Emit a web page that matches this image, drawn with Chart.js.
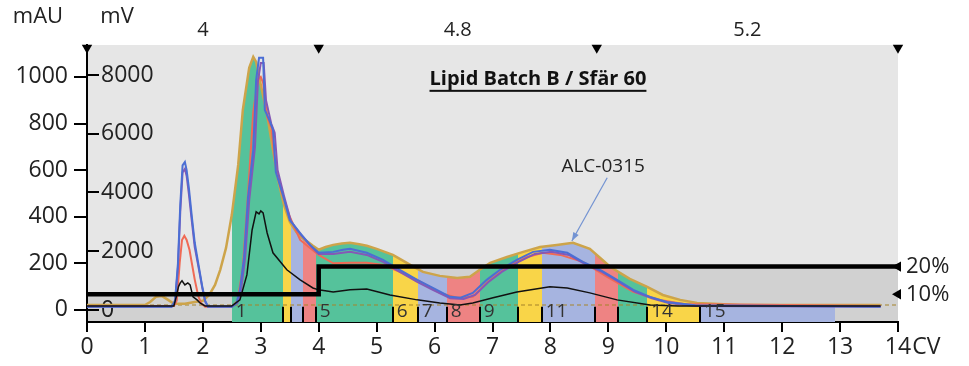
<!DOCTYPE html>
<html>
<head>
<meta charset="utf-8">
<script src="https://cdn.jsdelivr.net/npm/chart.js@4.4.0/dist/chart.umd.min.js"></script>
<style>
  body { margin: 0; background: #fff; }
  canvas { display: block; }
</style>
</head>
<body>
<canvas id="chart" width="969" height="366"></canvas>
<script>
// traces: x in CV, y in mAU
const goldX = [0, 1.0, 1.09, 1.19, 1.29, 1.40, 1.50, 1.69, 1.86, 2.0, 2.11, 2.21, 2.30, 2.40, 2.50, 2.61, 2.69, 2.80, 2.87, 2.92, 3.0, 3.11, 3.21, 3.30, 3.40, 3.50, 3.61, 3.71, 3.81, 3.90, 4.0, 4.12, 4.25, 4.40, 4.54, 4.70, 4.83, 5.0, 5.14, 5.28, 5.40, 5.61, 5.80, 6.09, 6.39, 6.61, 6.78, 6.96, 7.25, 7.53, 7.82, 8.11, 8.39, 8.68, 8.86, 9.03, 9.20, 9.37, 9.67, 9.94, 10.24, 10.53, 10.81, 11.27, 13.7]
const goldY = [21, 21, 34, 56, 60, 43, 26, 26, 34, 39, 64, 107, 172, 266, 408, 622, 858, 1039, 1086, 1064, 966, 837, 687, 558, 451, 378, 335, 309, 292, 275, 258, 270, 279, 285, 288, 282, 275, 262, 249, 236, 219, 189, 163, 146, 137, 142, 172, 202, 227, 249, 270, 279, 288, 262, 223, 185, 159, 133, 99, 64, 43, 30, 26, 21, 21]

const blueX = [0, 1.46, 1.52, 1.57, 1.61, 1.65, 1.69, 1.72, 1.76, 1.81, 1.86, 1.92, 1.99, 2.04, 2.09, 2.50, 2.58, 2.64, 2.71, 2.78, 2.87, 2.92, 2.97, 3.04, 3.07, 3.16, 3.21, 3.26, 3.38, 3.50, 3.68, 3.85, 4.0, 4.25, 4.42, 4.54, 4.83, 5.11, 5.40, 5.70, 5.97, 6.27, 6.45, 6.66, 6.90, 7.13, 7.42, 7.70, 7.99, 8.29, 8.56, 8.86, 9.15, 9.43, 9.72, 10.01, 10.5, 13.7]
const blueY = [13, 13, 40, 200, 450, 620, 635, 600, 520, 399, 288, 200, 100, 40, 13, 13, 30, 86, 223, 485, 687, 987, 1082, 1082, 858, 807, 773, 592, 494, 386, 330, 279, 245, 249, 258, 262, 245, 215, 172, 129, 94, 56, 52, 73, 129, 172, 215, 249, 258, 245, 206, 172, 129, 86, 56, 34, 20, 13]

const purpleX = [0, 1.46, 1.52, 1.57, 1.61, 1.65, 1.69, 1.72, 1.76, 1.81, 1.86, 1.92, 1.99, 2.04, 2.09, 2.50, 2.60, 2.66, 2.73, 2.80, 2.90, 2.95, 3.0, 3.05, 3.09, 3.18, 3.24, 3.29, 3.40, 3.52, 3.70, 3.88, 4.0, 4.25, 4.54, 4.83, 5.11, 5.40, 5.70, 5.97, 6.27, 6.50, 6.70, 6.93, 7.16, 7.45, 7.73, 8.02, 8.32, 8.59, 8.89, 9.18, 9.46, 9.75, 10.04, 10.5, 13.7]
const purpleY = [13, 13, 35, 180, 420, 590, 605, 575, 495, 380, 270, 190, 95, 35, 13, 13, 30, 86, 223, 470, 700, 980, 1060, 1060, 900, 800, 760, 600, 490, 380, 320, 270, 240, 240, 250, 236, 206, 163, 120, 86, 50, 47, 64, 120, 163, 206, 240, 250, 236, 198, 163, 120, 77, 50, 30, 17, 13]

const redX = [0, 1.50, 1.55, 1.60, 1.64, 1.68, 1.72, 1.77, 1.81, 1.86, 1.92, 1.97, 2.04, 2.50, 2.60, 2.69, 2.78, 2.87, 2.95, 3.0, 3.04, 3.11, 3.18, 3.25, 3.35, 3.50, 3.68, 3.85, 4.0, 4.25, 4.54, 4.83, 5.11, 5.40, 5.70, 6.09, 6.39, 6.66, 6.90, 7.25, 7.60, 7.87, 8.17, 8.56, 8.98, 9.43, 9.89, 10.3, 13.7]
const redY = [17, 17, 40, 200, 300, 318, 300, 257, 200, 130, 60, 28, 13, 13, 40, 180, 500, 850, 990, 1000, 974, 828, 785, 631, 515, 400, 300, 266, 236, 200, 202, 202, 193, 163, 129, 73, 52, 56, 116, 185, 227, 245, 236, 206, 142, 77, 43, 25, 17]

const blackX = [0, 1.50, 1.54, 1.58, 1.61, 1.64, 1.69, 1.74, 1.78, 1.83, 1.90, 1.95, 2.04, 2.50, 2.64, 2.76, 2.85, 2.92, 2.97, 3.0, 3.04, 3.11, 3.21, 3.45, 3.68, 3.90, 4.0, 4.25, 4.54, 4.83, 5.23, 5.70, 6.09, 6.44, 6.66, 7.01, 7.42, 7.99, 8.29, 8.68, 9.15, 9.72, 10.2, 13.7]
const blackY = [17, 17, 56, 100, 116, 125, 107, 116, 107, 56, 43, 30, 17, 17, 43, 150, 343, 421, 412, 425, 416, 330, 245, 172, 129, 94, 86, 77, 86, 90, 64, 43, 30, 21, 30, 52, 77, 99, 94, 73, 43, 21, 17, 17]

// gradient (% B) and step blocks
const gradX = [0, 4, 4, 14]
const gradY = [10, 10, 20, 20]
const stepBounds = [0, 4, 8.8, 14]
const stepLabels = ['4', '4.8', '5.2']
const dashLevel = 21

// collected fractions
const fracBounds = [2.50, 3.38, 3.52, 3.73, 3.95, 5.28, 5.71, 6.21, 6.78, 7.44, 7.85, 8.77, 9.17, 9.67, 10.58, 12.91]
const fracLabels = ['1', '', '', '', '5', '6', '7', '8', '9', '', '11', '', '', '14', '15']
const fracColors = ['#55c29b', '#f9d548', '#a6b4e0', '#ee8383']

// axis ticks
const cvTicks = [0, 1, 2, 3, 4, 5, 6, 7, 8, 9, 10, 11, 12, 13, 14]
const mauTicks = [0, 200, 400, 600, 800, 1000]
const mvTicks = [0, 2000, 4000, 6000, 8000]
const pctTicks = [10, 20]

const FONT = "'Open Sans', sans-serif"
Chart.defaults.font.family = FONT
Chart.defaults.color = '#222'

function pts(xs, ys) {
    return xs.map((x, i) => ({ x: x, y: ys[i] }))
}

function trace(xs, ys, color, width) {
    return {
        data: pts(xs, ys),
        yAxisID: 'y',
        borderColor: color,
        borderWidth: width,
        pointRadius: 0,
        tension: 0,
        fill: false
    }
}

const plain = v => String(v)

const GOLD = 5
const GRADFILL = 7

const decor = {
    id: 'decor',
    beforeDraw(chart) {
        const { ctx, chartArea: a } = chart
        ctx.save()
        ctx.fillStyle = '#e6e6e6'
        ctx.fillRect(a.left, a.top, a.right - a.left, a.bottom - a.top)
        ctx.restore()
    },
    afterDatasetDraw(chart, args) {
        if (args.index !== GRADFILL) return
        const { ctx, chartArea: a, scales } = chart
        const p = chart.getDatasetMeta(GOLD).data
        for (let i = 0; i < fracLabels.length; i++) {
            const x0 = Math.round(scales.x.getPixelForValue(fracBounds[i]))
            const x1 = Math.round(scales.x.getPixelForValue(fracBounds[i + 1]))
            ctx.save()
            ctx.beginPath()
            ctx.rect(x0, a.top, x1 - x0, a.bottom - a.top)
            ctx.clip()
            ctx.beginPath()
            ctx.moveTo(p[0].x, a.bottom)
            p.forEach(pt => ctx.lineTo(pt.x, pt.y))
            ctx.lineTo(p[p.length - 1].x, a.bottom)
            ctx.closePath()
            ctx.fillStyle = fracColors[i % 4]
            ctx.fill()
            ctx.restore()
        }
    },
    afterDatasetsDraw(chart) {
        const { ctx, chartArea: a, scales } = chart
        const x = scales.x, y = scales.y
        ctx.save()

        // fraction ticks + numbers
        const yTop = y.getPixelForValue(13)
        ctx.strokeStyle = '#000'
        ctx.lineWidth = 2
        for (let i = 1; i < fracBounds.length - 1; i++) {
            const px = Math.round(x.getPixelForValue(fracBounds[i]))
            ctx.beginPath()
            ctx.moveTo(px, a.bottom)
            ctx.lineTo(px, yTop)
            ctx.stroke()
        }
        ctx.fillStyle = '#333'
        ctx.font = '19px ' + FONT
        ctx.textAlign = 'left'
        ctx.textBaseline = 'middle'
        fracLabels.forEach((l, i) => {
            if (l) ctx.fillText(l, x.getPixelForValue(fracBounds[i]) + 4, a.bottom - 10)
        })

        // title
        ctx.fillStyle = '#111'
        ctx.font = 'bold 20px ' + FONT
        ctx.textAlign = 'center'
        ctx.textBaseline = 'alphabetic'
        const title = 'Lipid Batch B / Sfär 60'
        const tx = x.getPixelForValue(7.785), ty = y.getPixelForValue(966)
        ctx.fillText(title, tx, ty)
        const tw = ctx.measureText(title).width
        ctx.fillRect(tx - tw / 2, ty + 5, tw, 2)

        // peak annotation
        ctx.font = '19px ' + FONT
        ctx.fillStyle = '#222'
        ctx.fillText('ALC-0315', x.getPixelForValue(8.91), y.getPixelForValue(592))
        const ax0 = x.getPixelForValue(8.98), ay0 = y.getPixelForValue(567)
        const ax1 = x.getPixelForValue(8.37), ay1 = y.getPixelForValue(296)
        ctx.strokeStyle = '#7393d2'
        ctx.fillStyle = '#7393d2'
        ctx.lineWidth = 1.2
        ctx.beginPath()
        ctx.moveTo(ax0, ay0)
        ctx.lineTo(ax1, ay1)
        ctx.stroke()
        const ang = Math.atan2(ay1 - ay0, ax1 - ax0)
        ctx.beginPath()
        ctx.moveTo(ax1, ay1)
        ctx.lineTo(ax1 - 9 * Math.cos(ang - 0.35), ay1 - 9 * Math.sin(ang - 0.35))
        ctx.lineTo(ax1 - 9 * Math.cos(ang + 0.35), ay1 - 9 * Math.sin(ang + 0.35))
        ctx.closePath()
        ctx.fill()

        // axis unit labels
        ctx.fillStyle = '#222'
        ctx.font = '22px ' + FONT
        ctx.textBaseline = 'middle'
        ctx.textAlign = 'center'
        ctx.fillText('mAU', a.left - 49, 17)
        ctx.fillText('mV', a.left + 30, 17)
        ctx.font = '23px ' + FONT
        ctx.textAlign = 'left'
        ctx.fillText('CV', x.getPixelForValue(14) + ctx.measureText('14').width / 2 + 1, a.bottom + 25)
        ctx.restore()
    }
}

new Chart(document.getElementById('chart'), {
    type: 'line',
    data: {
        datasets: [
            { data: pts(gradX, gradY), yAxisID: 'pct', borderColor: '#000', borderWidth: 4.5, pointRadius: 0, fill: false },
            trace(blackX, blackY, '#111', 1.5),
            trace(blueX, blueY, '#4b6ed4', 2),
            trace(purpleX, purpleY, '#8558b6', 2),
            trace(redX, redY, '#f06a55', 2),
            trace(goldX, goldY, '#cda44a', 2.5),
            { data: pts([0, 14], [dashLevel, dashLevel]), yAxisID: 'y', borderColor: '#a5832a', borderWidth: 1.2, borderDash: [4, 3], pointRadius: 0, fill: false },
            { data: pts(gradX, gradY), yAxisID: 'pct', borderWidth: 0, borderColor: 'rgba(0,0,0,0)', backgroundColor: 'rgba(0,0,0,0.09)', pointRadius: 0, fill: 'start' },
            { data: stepBounds.map(v => ({ x: v, y: 99 })), yAxisID: 'pct', showLine: false, pointStyle: 'triangle', rotation: 180, pointRadius: 6, backgroundColor: '#000', borderColor: '#000', borderWidth: 0, clip: false },
            { data: pctTicks.map(v => ({ x: 14, y: v })), yAxisID: 'pct', showLine: false, pointStyle: 'triangle', rotation: -90, pointRadius: 6, backgroundColor: '#000', borderColor: '#000', borderWidth: 0, clip: false }
        ]
    },
    options: {
        responsive: false,
        animation: false,
        events: [],
        layout: { padding: 0 },
        plugins: { legend: { display: false }, tooltip: { enabled: false } },
        scales: {
            x: {
                type: 'linear', position: 'bottom', min: 0, max: 14, z: 1,
                afterBuildTicks: s => { s.ticks = cvTicks.map(v => ({ value: v })) },
                afterFit: s => { s.height = 44 },
                grid: { drawOnChartArea: false, tickLength: 10, color: '#000', lineWidth: 2 },
                border: { color: '#000', width: 2 },
                ticks: { font: { size: 23 }, padding: 2, maxRotation: 0, autoSkip: false, callback: plain }
            },
            x2: {
                type: 'linear', position: 'top', min: 0, max: 14,
                afterBuildTicks: s => { s.ticks = stepLabels.map((l, i) => ({ value: (stepBounds[i] + stepBounds[i + 1]) / 2 })) },
                afterFit: s => { s.height = 45 },
                grid: { display: false, drawTicks: false },
                border: { display: false },
                ticks: { font: { size: 20 }, padding: 3, callback: (v, i) => stepLabels[i] }
            },
            y: {
                type: 'linear', position: 'left', min: -52, max: 1137, weight: 1, z: 1,
                afterBuildTicks: s => { s.ticks = mauTicks.map(v => ({ value: v })) },
                afterFit: s => { s.width = 87 },
                grid: { drawOnChartArea: false, tickLength: 13, color: '#000', lineWidth: 2 },
                border: { color: '#000', width: 2 },
                ticks: { font: { size: 23 }, padding: 6, callback: plain }
            },
            mv: {
                type: 'linear', position: 'left', min: -408, max: 9020, weight: 0,
                afterBuildTicks: s => { s.ticks = mvTicks.map(v => ({ value: v })) },
                afterFit: s => { s.width = 0 },
                grid: { drawOnChartArea: false, tickLength: -12, color: '#000', lineWidth: 2 },
                border: { display: false },
                ticks: { mirror: true, padding: 14, font: { size: 23 }, callback: plain }
            },
            pct: {
                type: 'linear', position: 'right', min: 0, max: 100,
                afterBuildTicks: s => { s.ticks = pctTicks.map(v => ({ value: v })) },
                afterFit: s => { s.width = 71 },
                grid: { display: false, drawTicks: false },
                border: { display: false },
                ticks: { font: { size: 22 }, padding: 8, callback: v => v + '%' }
            }
        }
    },
    plugins: [decor]
})
</script>
</body>
</html>
